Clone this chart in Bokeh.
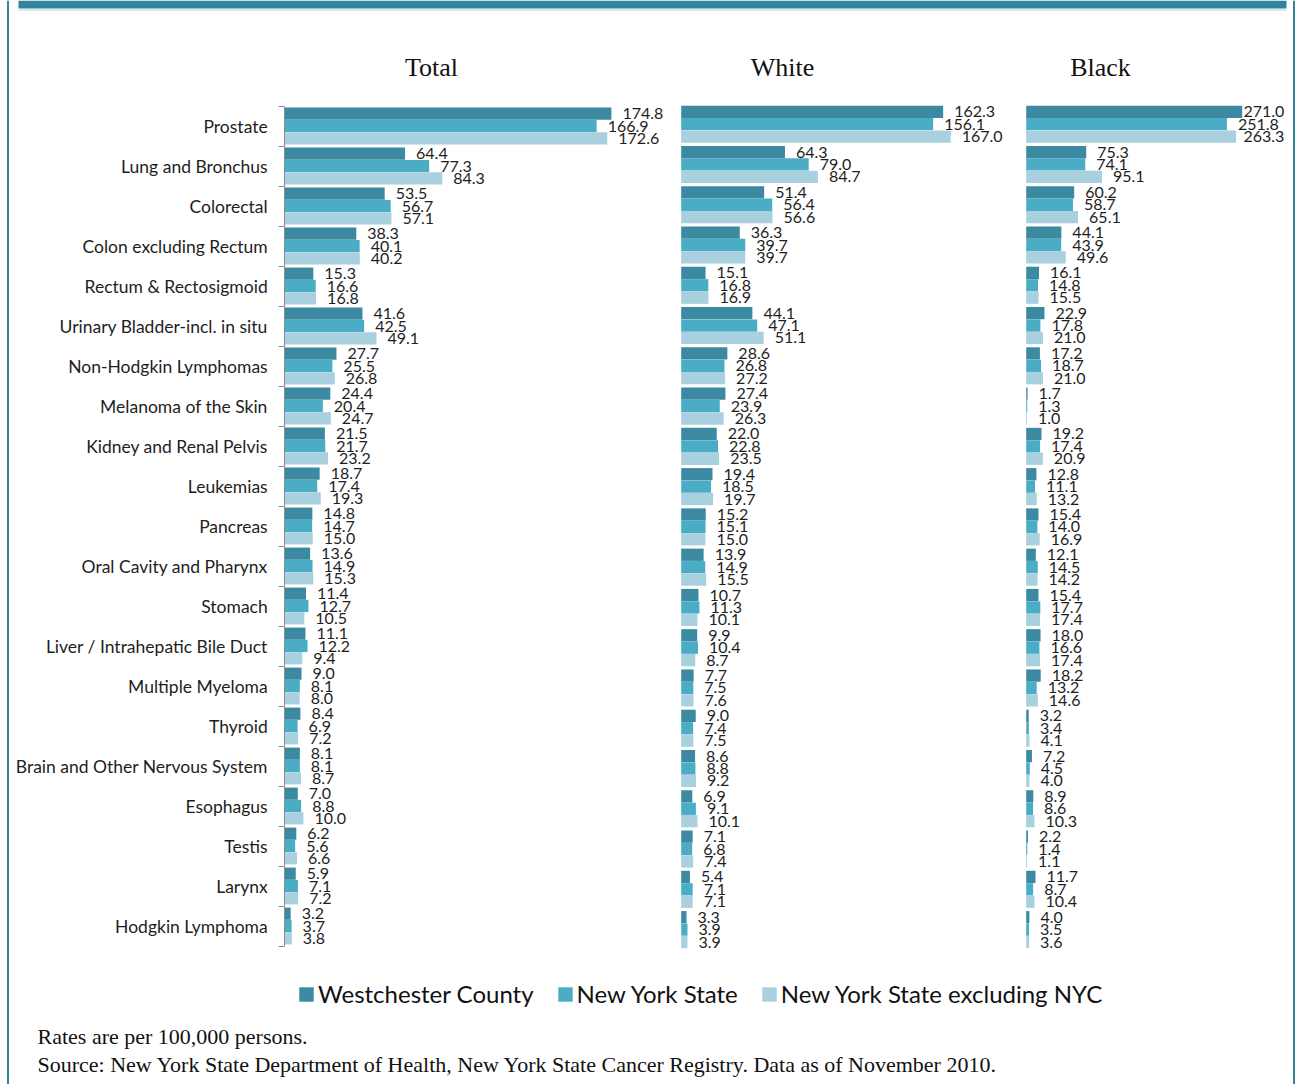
from bokeh.plotting import figure
from bokeh.models import (Range1d, LinearAxis, FixedTicker, ColumnDataSource,
                          Legend, LegendItem)
from bokeh.core.properties import value
from bokeh.embed import file_html
from bokeh.resources import INLINE

# ---------------- data ----------------
categories = [
    "Prostate", "Lung and Bronchus", "Colorectal", "Colon excluding Rectum",
    "Rectum & Rectosigmoid", "Urinary Bladder-incl. in situ", "Non-Hodgkin Lymphomas",
    "Melanoma of the Skin", "Kidney and Renal Pelvis", "Leukemias", "Pancreas",
    "Oral Cavity and Pharynx", "Stomach", "Liver / Intrahepatic Bile Duct",
    "Multiple Myeloma", "Thyroid", "Brain and Other Nervous System", "Esophagus",
    "Testis", "Larynx", "Hodgkin Lymphoma",
]
series_names = ["Westchester County", "New York State", "New York State excluding NYC"]
panel_titles = ["Total", "White", "Black"]

total_westchester = [174.8, 64.4, 53.5, 38.3, 15.3, 41.6, 27.7, 24.4, 21.5, 18.7, 14.8,
                     13.6, 11.4, 11.1, 9.0, 8.4, 8.1, 7.0, 6.2, 5.9, 3.2]
total_nys = [166.9, 77.3, 56.7, 40.1, 16.6, 42.5, 25.5, 20.4, 21.7, 17.4, 14.7,
             14.9, 12.7, 12.2, 8.1, 6.9, 8.1, 8.8, 5.6, 7.1, 3.7]
total_nys_ex_nyc = [172.6, 84.3, 57.1, 40.2, 16.8, 49.1, 26.8, 24.7, 23.2, 19.3, 15.0,
                    15.3, 10.5, 9.4, 8.0, 7.2, 8.7, 10.0, 6.6, 7.2, 3.8]

white_westchester = [162.3, 64.3, 51.4, 36.3, 15.1, 44.1, 28.6, 27.4, 22.0, 19.4, 15.2,
                     13.9, 10.7, 9.9, 7.7, 9.0, 8.6, 6.9, 7.1, 5.4, 3.3]
white_nys = [156.1, 79.0, 56.4, 39.7, 16.8, 47.1, 26.8, 23.9, 22.8, 18.5, 15.1,
             14.9, 11.3, 10.4, 7.5, 7.4, 8.8, 9.1, 6.8, 7.1, 3.9]
white_nys_ex_nyc = [167.0, 84.7, 56.6, 39.7, 16.9, 51.1, 27.2, 26.3, 23.5, 19.7, 15.0,
                    15.5, 10.1, 8.7, 7.6, 7.5, 9.2, 10.1, 7.4, 7.1, 3.9]

black_westchester = [271.0, 75.3, 60.2, 44.1, 16.1, 22.9, 17.2, 1.7, 19.2, 12.8, 15.4,
                     12.1, 15.4, 18.0, 18.2, 3.2, 7.2, 8.9, 2.2, 11.7, 4.0]
black_nys = [251.8, 74.1, 58.7, 43.9, 14.8, 17.8, 18.7, 1.3, 17.4, 11.1, 14.0,
             14.5, 17.7, 16.6, 13.2, 3.4, 4.5, 8.6, 1.4, 8.7, 3.5]
black_nys_ex_nyc = [263.3, 95.1, 65.1, 49.6, 15.5, 21.0, 21.0, 1.0, 20.9, 13.2, 16.9,
                    14.2, 17.4, 17.4, 14.6, 4.1, 4.0, 10.3, 1.1, 10.4, 3.6]

footnote_1 = "Rates are per 100,000 persons."
footnote_2 = ("Source:  New York State Department of Health, New York State Cancer Registry.  "
              "Data as of November 2010.")

# ---------------- style / layout ----------------
colors = ["#3B8AA1", "#4BACC6", "#A8D0DE"]
frame_color = "#31849B"
W, H = 1298, 1084          # canvas size
OX, OY = 0, 0              # page offset of the canvas (bokeh page has no body margin)
N = len(categories)

LABEL_FONT = "Lato"
SERIF = "Liberation Serif"

def x_range_for(zero_px, scale):
    return Range1d(start=(OX - zero_px) / scale, end=(OX + W - zero_px) / scale)

def y_range_for(c0_px, step):
    # category i has center value N-1-i; first category center at page y c0_px
    top = (N - 1) + (c0_px - OY) / step
    bottom = (N - 1) - (OY + H - c0_px) / step
    return Range1d(start=bottom, end=top)

panels = [
    dict(title=panel_titles[0], xname="default", yname="default", zero=284.2, scale=1.869,
         label_limit=None, title_x=431,
         series=[total_westchester, total_nys, total_nys_ex_nyc]),
    dict(title=panel_titles[1], xname="white", yname="wb", zero=680.7, scale=1.614,
         label_limit=None, title_x=782,
         series=[white_westchester, white_nys, white_nys_ex_nyc]),
    dict(title=panel_titles[2], xname="black", yname="wb", zero=1025.7, scale=0.797,
         label_limit=1243, title_x=1100,
         series=[black_westchester, black_nys, black_nys_ex_nyc]),
]

p = figure(width=W, height=H, output_backend="svg", toolbar_location=None,
           x_range=x_range_for(panels[0]["zero"], panels[0]["scale"]),
           y_range=y_range_for(125.5, 40.0),
           x_axis_location=None, y_axis_location=None, min_border=0,
           outline_line_color=None, background_fill_color="white",
           border_fill_color="white")
p.grid.grid_line_color = None
p.grid.visible = False
p.extra_x_ranges = {
    "white": x_range_for(panels[1]["zero"], panels[1]["scale"]),
    "black": x_range_for(panels[2]["zero"], panels[2]["scale"]),
    "page": Range1d(start=OX, end=OX + W),
}
p.extra_y_ranges = {
    "wb": y_range_for(123.7, 40.27),
    "page": Range1d(start=OY + H, end=OY),
}

# ---------------- frame decoration ----------------
p.quad(left=[18], right=[1286], top=[0], bottom=[8], fill_color=frame_color,
       line_color=None, x_range_name="page", y_range_name="page")
p.segment(x0=[18], x1=[1286], y0=[9.5], y1=[9.5], line_color="#C4E6EE", line_width=1.5,
          x_range_name="page", y_range_name="page")
p.segment(x0=[7.5, 1293.5], x1=[7.5, 1293.5], y0=[0, 0], y1=[H, H],
          line_color=frame_color, line_width=2, x_range_name="page", y_range_name="page")

# ---------------- bars & labels ----------------
BAR_H = 0.305
OFFSET = 0.308
legend_renderers = []
for pi, pn in enumerate(panels):
    for k, vals in enumerate(pn["series"]):
        ys = [(N - 1 - i) + (1 - k) * OFFSET for i in range(N)]
        if pn["label_limit"] is not None:
            cap = (pn["label_limit"] - 11 - pn["zero"]) / pn["scale"]
            lx = [min(v, cap) for v in vals]
        else:
            lx = list(vals)
        src = ColumnDataSource(dict(y=ys, v=vals, lx=lx, t=["%.1f" % v for v in vals]))
        r = p.hbar(y="y", left=0, right="v", height=BAR_H, source=src,
                   fill_color=colors[k], line_color=None,
                   x_range_name=pn["xname"], y_range_name=pn["yname"])
        if pi == 0:
            legend_renderers.append(r)
        p.text(x="lx", y="y", text="t", source=src, x_offset=11,
               text_align="left", text_baseline="middle",
               text_font=value(LABEL_FONT), text_font_size="16px", text_color="#1e1e1e",
               x_range_name=pn["xname"], y_range_name=pn["yname"])
    p.text(x=[pn["title_x"]], y=[67], text=[pn["title"]], text_align="center",
           text_baseline="middle", text_font=value(SERIF), text_font_size="26px",
           text_color="#111111", x_range_name="page", y_range_name="page")

# ---------------- Total panel category axis ----------------
tick_axis = LinearAxis(fixed_location=0,
                       ticker=FixedTicker(ticks=[k - 0.5 for k in range(N + 1)]),
                       bounds=(-0.5, N - 0.5),
                       axis_line_color="#8C8C8C", axis_line_width=1,
                       major_tick_line_color="#8C8C8C", major_tick_out=6, major_tick_in=0,
                       minor_tick_line_color=None, major_label_text_color=None,
                       major_label_text_font_size="1px")
p.add_layout(tick_axis, "left")

label_axis = LinearAxis(fixed_location=0,
                        ticker=FixedTicker(ticks=[N - 1 - i for i in range(N)]),
                        major_label_overrides={N - 1 - i: c for i, c in enumerate(categories)},
                        axis_line_color=None, major_tick_line_color=None,
                        major_tick_out=0, major_tick_in=0, minor_tick_line_color=None,
                        major_label_standoff=17, major_label_text_font=LABEL_FONT,
                        major_label_text_font_size="17.5px", major_label_text_color="#1e1e1e")
p.add_layout(label_axis, "left")

# ---------------- legend ----------------
legend = Legend(items=[LegendItem(label=series_names[k], renderers=[legend_renderers[k]])
                       for k in range(3)],
                orientation="horizontal", location=(297, 76),
                label_text_font=LABEL_FONT, label_text_font_size="24px",
                label_text_color="#111111",
                glyph_width=18, glyph_height=18, label_standoff=3, spacing=22,
                padding=0, margin=0, border_line_color=None, background_fill_alpha=0)
p.add_layout(legend)

# ---------------- footnotes ----------------
p.text(x=[37, 37], y=[1036, 1064], text=[footnote_1, footnote_2], text_align="left",
       text_baseline="middle", text_font=value(SERIF), text_font_size="22px",
       text_color="#111111", x_range_name="page", y_range_name="page")

open("out.html", "w").write(file_html(p, INLINE))
